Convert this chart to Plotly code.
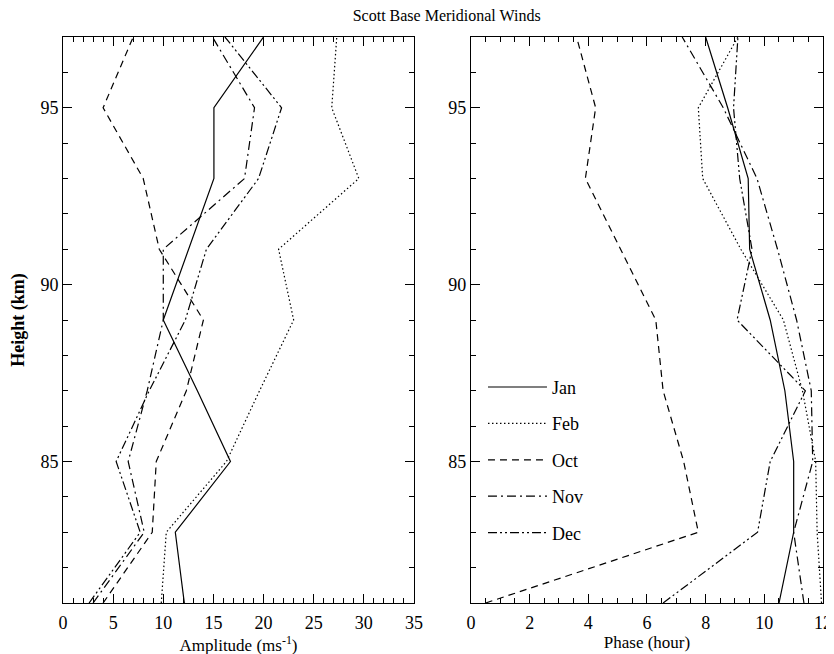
import plotly.graph_objects as go

heights = [81, 83, 85, 87, 89, 91, 93, 95, 97]
months = ["Jan", "Feb", "Oct", "Nov", "Dec"]

amp_jan = [12.1, 11.2, 16.7, 13.4, 10.0, 12.55, 15.05, 15.05, 20.0]
amp_feb = [9.8, 10.3, 16.3, 19.6, 23.0, 21.5, 29.5, 26.8, 27.3]
amp_oct = [4.0, 8.9, 9.3, 12.3, 14.0, 9.6, 8.0, 4.0, 7.0]
amp_nov = [3.0, 8.1, 6.5, 8.4, 10.0, 10.0, 18.1, 19.1, 14.9]
amp_dec = [2.6, 7.7, 5.3, 8.6, 12.2, 14.3, 19.5, 21.8, 16.15]

ph_jan = [10.5, 11.0, 11.0, 10.7, 10.2, 9.5, 9.45, 8.75, 8.0]
ph_feb = [11.95, 11.8, 11.75, 11.3, 10.65, 9.2, 7.9, 7.75, 9.1]
ph_oct = [0.5, 7.75, 7.25, 6.55, 6.3, 5.1, 3.9, 4.25, 3.6]
ph_nov = [11.35, 11.0, 11.65, 11.6, 11.1, 10.45, 9.75, 8.6, 7.2]
ph_dec = [6.55, 9.77, 10.2, 11.4, 9.07, 9.58, 9.16, 8.95, 9.1]

amps = [amp_jan, amp_feb, amp_oct, amp_nov, amp_dec]
phases = [ph_jan, ph_feb, ph_oct, ph_nov, ph_dec]
dashes = ["solid", "1.5px,2.5px", "7px,5px", "9px,4px,2px,4px", "9px,3px,2px,3px,2px,3px"]

FONT = "Liberation Serif"

fig = go.Figure()
for m, a, d in zip(months, amps, dashes):
    fig.add_trace(go.Scatter(x=a, y=heights, mode="lines", name=m, legendgroup=m,
                             showlegend=False, line=dict(color="black", width=1.2, dash=d),
                             xaxis="x", yaxis="y"))
for m, p, d in zip(months, phases, dashes):
    fig.add_trace(go.Scatter(x=p, y=heights, mode="lines", name=m, legendgroup=m,
                             showlegend=True, line=dict(color="black", width=1.2, dash=d),
                             xaxis="x2", yaxis="y2"))

axis_common = dict(showline=True, linecolor="black", linewidth=1, mirror="ticks",
                   ticks="inside", tickcolor="black", ticklen=9, tickwidth=1,
                   showgrid=False, zeroline=False, automargin=False,
                   tickfont=dict(family=FONT, size=18, color="black"))

fig.update_layout(
    width=834, height=654,
    paper_bgcolor="white", plot_bgcolor="white",
    margin=dict(l=55, r=19, t=29, b=59),
    font=dict(family=FONT, color="black", size=17),
    title=dict(text="Scott Base Meridional Winds", x=0.526, xanchor="center",
               yref="container", y=0.9893, yanchor="middle", automargin=False,
               font=dict(family=FONT, size=16, color="black")),
    xaxis=dict(domain=[0, 0.4618], range=[0, 35], dtick=5, tick0=0,
               ticklabelstandoff=3,
               minor=dict(dtick=1, ticks="inside", ticklen=5, tickcolor="black"),
               title=dict(text="Amplitude (ms<sup>-1</sup>)", standoff=4,
                          font=dict(family=FONT, size=17)),
               anchor="y", **axis_common),
    yaxis=dict(domain=[0, 1], range=[81, 97], dtick=5, tick0=85,
               minor=dict(dtick=1, ticks="inside", ticklen=5, tickcolor="black"),
               title=dict(text="<b>Height (km)</b>", standoff=20,
                          font=dict(family=FONT, size=18)),
               anchor="x", **axis_common),
    xaxis2=dict(domain=[0.5368, 1], range=[0, 12], dtick=2, tick0=0,
                ticklabelstandoff=3,
                minor=dict(dtick=0.5, ticks="inside", ticklen=5, tickcolor="black"),
                title=dict(text="Phase (hour)", standoff=4,
                           font=dict(family=FONT, size=17)),
                anchor="y2", **axis_common),
    yaxis2=dict(domain=[0, 1], range=[81, 97], dtick=5, tick0=85,
                minor=dict(dtick=1, ticks="inside", ticklen=5, tickcolor="black"),
                anchor="x2", **axis_common),
    legend=dict(x=0.5526, y=0.253, xanchor="left", yanchor="middle",
                bgcolor="rgba(0,0,0,0)", tracegroupgap=10, itemwidth=59,
                font=dict(family=FONT, size=18, color="black")),
)

fig.write_html("out.html")
